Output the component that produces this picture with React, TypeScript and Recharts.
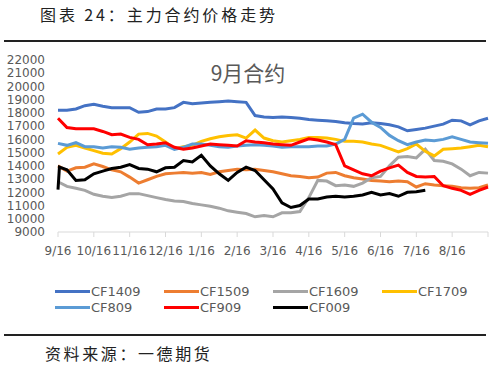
import React from "react";
import { LineChart, Line, XAxis, YAxis } from "recharts";

// x positions in months from 9/16 (0 .. 12), quarter-month steps plus one extra point at the start
const tValues = [
  0, 0.04, 0.25, 0.5, 0.75, 1, 1.25, 1.5, 1.75, 2, 2.25, 2.5, 2.75, 3, 3.25, 3.5, 3.75, 4, 4.25,
  4.5, 4.75, 5, 5.25, 5.5, 5.75, 6, 6.25, 6.5, 6.75, 7, 7.25, 7.5, 7.75, 8, 8.25, 8.5, 8.75, 9,
  9.25, 9.5, 9.75, 10, 10.25, 10.5, 10.75, 11, 11.25, 11.5, 11.75, 12,
];
const monthLabels = ["9/16", "10/16", "11/16", "12/16", "1/16", "2/16", "3/16", "4/16", "5/16", "6/16", "7/16", "8/16"];
const xTicks = [0, 1, 2, 3, 4, 5, 6, 7, 8, 9, 10, 11, 12];
const yTicks = [9000, 10000, 11000, 12000, 13000, 14000, 15000, 16000, 17000, 18000, 19000, 20000, 21000, 22000];

const cf1409 = [
  18200, null, 18200, 18300, 18550, 18650, 18500, 18400, 18400, 18400, 18050, 18100, 18300, 18300,
  18400, 18800, 18700, 18750, 18800, 18850, 18900, 18850, 18800, 17800, 17700, 17650, 17700, 17650,
  17600, 17500, 17450, 17400, 17350, 17250, 17200, 17170, 17250, 17200, 17100, 16950, 16650, 16750,
  16850, 17000, 17150, 17450, 17400, 17100, 17400, 17600,
];
const cf1509 = [
  14000, null, 13600, 13850, 13900, 14150, 13950, 13700, 13550, 13150, 12700, 12950, 13200, 13400,
  13450, 13500, 13450, 13500, 13350, 13550, 13650, 13750, 13700, 13750, 13650, 13550, 13400, 13250,
  13200, 13100, 13150, 13450, 13500, 13250, 13100, 13000, 12900, 12850, 12800, 12850, 12800, 12400,
  12650, 12550, 12500, 12450, 12350, 12300, 12350, 12550,
];
const cf1609 = [
  12800, null, 12450, 12300, 12150, 11850, 11700, 11600, 11700, 11900, 11900, 11750, 11600, 11450,
  11350, 11300, 11150, 11050, 10950, 10800, 10600, 10500, 10400, 10150, 10250, 10150, 10450, 10450,
  10550, 11600, 12900, 12850, 12500, 12550, 12450, 12700, 13100, 13200, 14000, 14650, 14700, 14600,
  15250, 14400, 14350, 14150, 13750, 13250, 13500, 13450,
];
const cf1709 = [
  14900, null, 15400, 15550, 15350, 15150, 14950, 14900, 15300, 15800, 16400, 16450, 16250, 15800,
  15300, 15450, 15550, 15850, 16050, 16200, 16300, 16350, 16100, 16700, 16100, 15900, 15800, 15900,
  16000, 16150, 16150, 16100, 16000, 15850, 15850, 15800, 15650, 15550, 15300, 15050, 15300, 15650,
  15100, 14750, 15250, 15300, 15350, 15450, 15550, 15450,
];
const cf809 = [
  15700, null, 15550, 15750, 15450, 15450, 15350, 15450, 15400, 15250, 15350, 15400, 15450, 15550,
  15250, 15400, 15650, 15650, 15550, 15450, 15400, 15500, 15550, 15600, 15550, 15500, 15400, 15450,
  15450, 15450, 15500, 15500, 15650, 16000, 17600, 17900, 17300, 16900, 16300, 15900, 15600, 15800,
  15950, 15900, 16000, 16200, 16000, 15800, 15750, 15700,
];
const cf909 = [
  17600, null, 16900, 16800, 16800, 16800, 16600, 16350, 16400, 16150, 16000, 15600, 15650, 15750,
  15400, 15250, 15350, 15500, 15650, 15600, 15550, 15500, 15900, 15800, 15750, 15650, 15600, 15550,
  15800, 16050, 15950, 15800, 15600, 14000, 13700, 13400, 13250, 13600, 13850, 14050, 13500, 13200,
  13150, 13200, 12500, 12300, 12150, 11850, 12150, 12400,
];
const cf009 = [
  12200, 13900, 13700, 12900, 12950, 13400, 13600, 13800, 13900, 14100, 13800, 13750, 13550, 13850,
  13900, 14400, 14300, 14800, 14000, 13400, 12900, 13500, 13900, 13650, 12950, 12250, 11200, 10850,
  11000, 11500, 11500, 11650, 11700, 11650, 11700, 11800, 12000, 11800, 11900, 11700, 12000, 12050,
  12150, null, null, null, null, null, null, null,
];

const seriesNames = ["CF1409", "CF1509", "CF1609", "CF1709", "CF809", "CF909", "CF009"];
const seriesValues = [cf1409, cf1509, cf1609, cf1709, cf809, cf909, cf009];
const colors = ["#4472C4", "#ED7D31", "#A5A5A5", "#FFC000", "#5B9BD5", "#FF0000", "#000000"];

const data = tValues.map((t, i) => {
  const row: Record<string, number | null> = { t };
  seriesNames.forEach((name, k) => {
    row[name] = seriesValues[k][i];
  });
  return row;
});

const axisFont = { fontSize: 12, fill: "#595959", fontFamily: "DejaVu Sans" };
const cjk = "'Noto Sans CJK SC', 'Noto Sans', sans-serif";

const ChartLegend = () => (
  <div style={{ position: "absolute", left: 0, top: 283, width: 500, height: 34 }}>
    {seriesNames.map((name, k) => (
      <div
        key={name}
        style={{
          position: "absolute",
          left: 55 + (k % 4) * 109,
          top: Math.floor(k / 4) * 16,
          height: 16,
          display: "flex",
          alignItems: "center",
        }}
      >
        <div style={{ width: 35, height: 3, background: colors[k] }} />
        <span style={{ fontFamily: "DejaVu Sans", fontSize: 13, color: "#595959", marginLeft: 1 }}>{name}</span>
      </div>
    ))}
  </div>
);

export default function App() {
  return (
    <div style={{ position: "absolute", left: 0, top: 0, width: 500, height: 365, background: "#fff" }}>
      <div
        style={{
          position: "absolute",
          left: 40,
          top: 2,
          fontFamily: cjk,
          fontSize: 16,
          letterSpacing: 2.9,
          color: "#222",
          whiteSpace: "nowrap",
        }}
      >
        图表 24：主力合约价格走势
      </div>
      <div style={{ position: "absolute", left: 4, top: 40, width: 482, height: 2, background: "#222" }} />
      <LineChart
        width={500}
        height={365}
        data={data}
        margin={{ top: 60, right: 12, bottom: 103, left: 0 }}
      >
        <XAxis
          dataKey="t"
          type="number"
          domain={[0, 12]}
          ticks={xTicks}
          interval={0}
          tickFormatter={(v: number) => monthLabels[v] ?? ""}
          tick={axisFont}
          stroke="#d9d9d9"
          tickSize={5}
          tickMargin={9}
        />
        <YAxis
          type="number"
          domain={[9000, 22000]}
          ticks={yTicks}
          interval={0}
          tick={axisFont}
          axisLine={false}
          tickLine={false}
          width={58}
          tickMargin={7}
        />
        {seriesNames.map((name, k) => (
          <Line
            key={name}
            type="linear"
            dataKey={name}
            stroke={colors[k]}
            strokeWidth={3}
            dot={false}
            connectNulls
            isAnimationActive={false}
          />
        ))}
      </LineChart>
      <div
        style={{
          position: "absolute",
          left: 0,
          width: 496,
          top: 57,
          textAlign: "center",
          fontFamily: cjk,
          fontSize: 21,
          color: "#595959",
        }}
      >
        9月合约
      </div>
      <ChartLegend />
      <div style={{ position: "absolute", left: 4, top: 334, width: 482, height: 2, background: "#222" }} />
      <div
        style={{
          position: "absolute",
          left: 45,
          top: 341,
          fontFamily: cjk,
          fontSize: 16,
          letterSpacing: 2.6,
          color: "#222",
          whiteSpace: "nowrap",
        }}
      >
        资料来源：一德期货
      </div>
    </div>
  );
}
